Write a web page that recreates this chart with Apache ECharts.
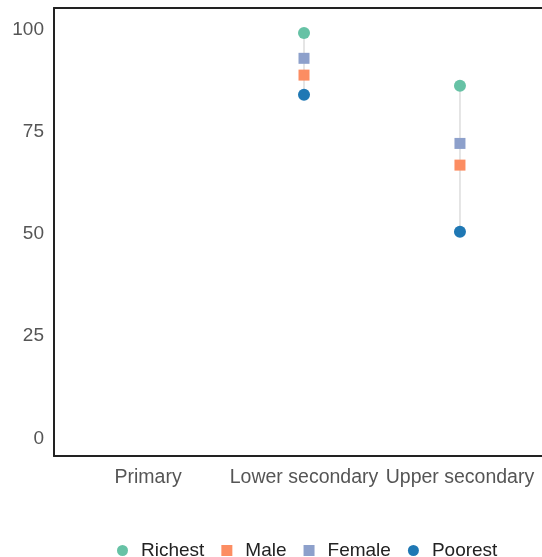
<!DOCTYPE html>
<html>
<head>
<meta charset="utf-8">
<script src="https://cdn.jsdelivr.net/npm/echarts@6/dist/echarts.min.js"></script>
<style>html,body{margin:0;padding:0;background:#fff}#c{width:542px;height:557px}</style>
</head>
<body>
<div id="c"></div>
<script>
const categories = ['Primary', 'Lower secondary', 'Upper secondary'];
const richest = [null, 99.1, 86.2];
const male = [null, 88.8, 66.8];
const female = [null, 92.9, 72.1];
const poorest = [null, 84.0, 50.5];
const yTicks = [0, 25, 50, 75, 100];

const groups = [
  {name: 'Richest', data: richest, color: '#66c2a5', symbol: 'circle', size: 12},
  {name: 'Male', data: male, color: '#fc8d62', symbol: 'rect', size: 11},
  {name: 'Female', data: female, color: '#8da0cb', symbol: 'rect', size: 11},
  {name: 'Poorest', data: poorest, color: '#1f78b4', symbol: 'circle', size: 12}
];

const rangeSeries = categories.map((c, i) => {
  const vals = groups.map(g => g.data[i]).filter(v => v != null);
  if (!vals.length) return null;
  return {
    type: 'line', silent: true, symbol: 'none', z: 1,
    lineStyle: {color: '#dddddd', width: 1.5},
    data: [[i, Math.min(...vals)], [i, Math.max(...vals)]]
  };
}).filter(Boolean);

const pointSeries = groups.map(g => ({
  name: g.name, type: 'scatter', z: 3,
  symbol: g.symbol, symbolSize: g.size,
  itemStyle: {color: g.color, opacity: 1},
  data: g.data.map((v, i) => v == null ? null : [i, v]).filter(Boolean)
}));

const font = 'Liberation Sans, Arial, sans-serif';
const frameLine = {show: true, onZero: false, lineStyle: {color: '#222', width: 2}};

const chart = echarts.init(document.getElementById('c'));
chart.setOption({
  animation: false,
  grid: {left: 54, right: 0, top: 8, bottom: 101, show: false, containLabel: false},
  xAxis: [{
    type: 'value', min: -0.603, max: 2.526, position: 'bottom',
    splitLine: {show: false}, axisLine: frameLine, axisTick: {show: false},
    axisLabel: {
      customValues: categories.map((c, i) => i),
      formatter: v => categories[Math.round(v)] || '',
      color: '#555', fontSize: 19.5, fontFamily: font, margin: 12
    }
  }, {
    type: 'value', min: -0.603, max: 2.526, position: 'top',
    splitLine: {show: false}, axisLine: frameLine, axisTick: {show: false}, axisLabel: {show: false}
  }],
  yAxis: {
    type: 'value', min: -4.3, max: 105.2,
    splitLine: {show: false}, axisLine: frameLine, axisTick: {show: false},
    axisLabel: {customValues: yTicks, color: '#555', fontSize: 19, fontFamily: font, margin: 10}
  },
  legend: {
    left: 112, top: 536, itemGap: 17, itemWidth: 11, itemHeight: 11,
    data: groups.map(g => ({name: g.name, icon: g.symbol})),
    textStyle: {color: '#222', fontSize: 19, fontFamily: font, padding: [0, 0, 0, 8]}
  },
  series: [...rangeSeries, ...pointSeries]
});
</script>
</body>
</html>
